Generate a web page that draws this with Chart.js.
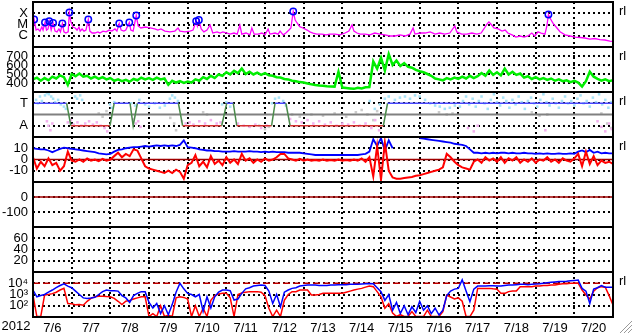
<!DOCTYPE html>
<html lang="en">
<head>
<meta charset="UTF-8">
<title>Solar-terrestrial summary 2012 7/6 - 7/20</title>
<script src="https://cdn.jsdelivr.net/npm/chart.js"></script>
<style>
    body { margin: 0; background: #fff; }
    #panels { position: relative; width: 633px; height: 334px; overflow: hidden; }
    #panels canvas { position: absolute; left: 0; }
</style>
</head>
<body>
<div id="panels"></div>
<script>
// ---------- data (time in days from 2012-07-06 00UT) ----------
const YEAR = '2012';
const DAY_LABELS = ['7/6', '7/7', '7/8', '7/9', '7/10', '7/11', '7/12', '7/13', '7/14', '7/15', '7/16', '7/17', '7/18', '7/19', '7/20'];
const STEP = 0.1; // spacing of the gridded series below

// X-ray flux (W/m2)
const xrayT = [
    0, 0.03, 0.08, 0.13, 0.18, 0.23, 0.26, 0.31, 0.35, 0.39,
    0.42, 0.47, 0.52, 0.57, 0.62, 0.67, 0.71, 0.76, 0.80, 0.85,
    0.91, 0.94, 0.98, 1.03, 1.09, 1.14, 1.19, 1.22, 1.27, 1.32,
    1.37, 1.43, 1.47, 1.53, 1.60, 1.68, 1.73, 1.81, 1.89, 1.97,
    2.04, 2.12, 2.17, 2.23, 2.28, 2.35, 2.40, 2.49, 2.53, 2.59,
    2.67, 2.72, 2.79, 2.90, 3.03, 3.15, 3.23, 3.31, 3.41, 3.54,
    3.67, 3.75, 3.80, 3.93, 4.06, 4.14, 4.22, 4.25, 4.29, 4.35,
    4.42, 4.50, 4.58, 4.65, 4.76, 4.84, 4.91, 5.02, 5.09, 5.20,
    5.28, 5.35, 5.40, 5.51, 5.61, 5.66, 5.72, 5.82, 5.92, 6.00,
    6.08, 6.13, 6.26, 6.34, 6.39, 6.47, 6.54, 6.62, 6.67, 6.73,
    6.78, 6.83, 6.90, 6.98, 7.09, 7.16, 7.24, 7.34, 7.47, 7.58,
    7.68, 7.81, 7.94, 8.07, 8.17, 8.25, 8.30, 8.38, 8.46, 8.59,
    8.71, 8.84, 8.97, 9.10, 9.23, 9.36, 9.49, 9.62, 9.75, 9.83,
    9.88, 10.01, 10.14, 10.27, 10.40, 10.52, 10.65, 10.78, 10.91, 10.96,
    11.09, 11.22, 11.35, 11.48, 11.59, 11.66, 11.74, 11.79, 11.84, 11.92,
    12.03, 12.13, 12.21, 12.28, 12.39, 12.49, 12.60, 12.70, 12.80, 12.90,
    12.98, 13.06, 13.14, 13.24, 13.29, 13.33, 13.37, 13.45, 13.55, 13.63,
    13.76, 13.89, 14.02, 14.15, 14.27, 14.40, 14.53, 14.66, 14.79, 14.92,
    15.00
];
const xrayFlux = [
    2.6e-6, 2.8e-5, 3.2e-6, 4.0e-6, 2.6e-6, 6.0e-6, 3.2e-6, 1.5e-5, 3.2e-6, 4.0e-6,
    2.0e-5, 3.2e-6, 1.36e-5, 2.6e-6, 2.2e-6, 4.0e-6, 2.2e-6, 1.23e-5, 2.2e-6, 1.75e-6,
    2.2e-6, 1.17e-4, 1.7e-5, 6.0e-6, 4.9e-6, 3.2e-6, 6.0e-6, 2.6e-6, 4.0e-6, 2.6e-6,
    3.2e-6, 2.8e-5, 2.6e-6, 1.75e-6, 1.75e-6, 2.2e-6, 1.75e-6, 2.6e-6, 2.2e-6, 3.2e-6,
    2.6e-6, 4.0e-6, 2.6e-6, 1.23e-5, 3.2e-6, 2.6e-6, 3.2e-6, 1.5e-5, 3.2e-6, 2.6e-6,
    6.3e-5, 7.4e-6, 4.9e-6, 6.0e-6, 4.9e-6, 4.0e-6, 3.2e-6, 4.0e-6, 2.6e-6, 2.2e-6,
    2.6e-6, 4.9e-6, 2.6e-6, 2.2e-6, 2.6e-6, 3.2e-6, 2.0e-5, 7.4e-6, 2.5e-5, 4.0e-6,
    2.2e-6, 3.2e-6, 9.0e-6, 1.75e-6, 2.2e-6, 1.75e-6, 2.2e-6, 1.75e-6, 1.4e-6, 1.75e-6,
    1.4e-6, 9.0e-6, 1.4e-6, 1.75e-6, 1.2e-6, 4.9e-6, 1.4e-6, 1.4e-6, 1.75e-6, 1.2e-6,
    4.0e-6, 1.4e-6, 1.75e-6, 1.4e-6, 2.6e-6, 1.2e-6, 1.75e-6, 3.2e-6, 4.9e-6, 1.43e-4,
    2.5e-5, 1.36e-5, 6.4e-6, 4.9e-6, 3.2e-6, 2.2e-6, 1.75e-6, 1.4e-6, 1.4e-6, 1.2e-6,
    1.4e-6, 1.4e-6, 1.2e-6, 1.75e-6, 2.6e-6, 9.0e-6, 2.6e-6, 1.75e-6, 1.4e-6, 1.4e-6,
    1.2e-6, 1.75e-6, 1.4e-6, 1.2e-6, 9.5e-7, 9.5e-7, 1.2e-6, 9.5e-7, 1.4e-6, 4.9e-6,
    1.4e-6, 1.75e-6, 1.75e-6, 2.2e-6, 1.4e-6, 1.75e-6, 1.4e-6, 1.75e-6, 7.4e-6, 2.2e-6,
    1.4e-6, 1.4e-6, 1.75e-6, 1.4e-6, 1.75e-6, 4.0e-6, 1.1e-5, 1.7e-5, 1.1e-5, 4.9e-6,
    4.0e-6, 2.6e-6, 3.2e-6, 1.75e-6, 1.2e-6, 7.7e-7, 9.5e-7, 7.7e-7, 9.5e-7, 1.75e-6,
    9.5e-7, 2.2e-6, 1.75e-6, 1.4e-6, 7.4e-6, 7.7e-5, 3.8e-5, 1.28e-5, 4.9e-6, 2.3e-6,
    1.2e-6, 9.5e-7, 7.7e-7, 7.0e-7, 6.3e-7, 5.1e-7, 5.7e-7, 4.6e-7, 4.2e-7, 3.4e-7,
    3.1e-7
];
// marked flares (circles)
const flareT = [0.03, 0.31, 0.42, 0.52, 0.76, 0.94, 1.43, 2.23, 2.49, 2.67, 4.22, 4.29, 6.73, 13.33];
const flareFlux = [2.8e-5, 1.5e-5, 2.0e-5, 1.36e-5, 1.23e-5, 1.17e-4, 2.8e-5, 1.23e-5, 1.5e-5, 6.3e-5, 2.0e-5, 2.5e-5, 1.43e-4, 7.7e-5];

// solar wind speed (km/s), every STEP days
const speed = [
    440, 460, 425, 455, 430, 470, 450, 485, 465, 380,
    500, 475, 505, 470, 480, 450, 470, 445, 465, 440,
    455, 425, 440, 420, 435, 415, 445, 430, 460, 440,
    455, 435, 460, 440, 450, 380, 425, 405, 420, 400,
    415, 405, 440, 425, 465, 445, 480, 455, 495, 480,
    520, 495, 535, 510, 560, 500, 525, 495, 515, 490,
    510, 485, 480, 465, 460, 445, 440, 425, 420, 410,
    405, 395, 385, 378, 372, 370, 365, 362, 360, 525,
    350, 345, 340, 335, 348, 340, 352, 355, 640, 560,
    680, 540, 720, 600, 650, 590, 620, 580, 570, 545,
    530, 520, 500, 480, 450, 440, 430, 455, 440, 460,
    445, 470, 450, 480, 455, 475, 510, 480, 540, 490,
    520, 485, 560, 495, 525, 490, 505, 460, 475, 445,
    465, 440, 455, 435, 450, 425, 440, 420, 430, 410,
    425, 405, 360, 420, 525, 470, 445, 425, 440, 420,
    430
];

// IMF sector: 3 = toward (T), 1 = away (A)
const sectorT = [0, 0.87, 0.98, 1.99, 2.10, 2.51, 2.59, 2.70, 3.76, 3.87, 4.88, 5.01, 5.18, 5.27, 6.17, 6.26, 6.54, 6.65, 9.06, 9.17, 15];
const sectorLevel = [3, 3, 1, 1, 3, 3, 1, 3, 3, 1, 1, 3, 3, 1, 1, 3, 3, 1, 1, 3, 3];
// field direction samples [day, level]
const towardPts = [
    [0.08, 3.3], [0.13, 3.0], [0.18, 3.6], [0.23, 3.2], [0.31, 3.7], [0.36, 3.9], [0.41, 3.8], [0.47, 3.6], [0.52, 3.4], [0.57, 3.1],
    [0.65, 3.3], [0.72, 2.9], [0.8, 2.7], [0.85, 2.5], [1.09, 3.6], [1.14, 3.4], [1.22, 3.7], [1.27, 3.3], [1.99, 2.9], [2.04, 2.6],
    [2.1, 3.1], [2.54, 3.0], [2.64, 2.8], [2.75, 3.3], [2.9, 2.9], [3.0, 2.7], [3.15, 3.0], [3.28, 2.6], [3.41, 2.8], [3.54, 3.4],
    [3.6, 3.7], [3.67, 3.5], [3.75, 3.2], [4.89, 2.9], [5.0, 3.1], [5.1, 2.7], [6.18, 3.0], [6.26, 3.4], [6.36, 3.5], [6.47, 3.2],
    [6.54, 2.8], [8.71, 3.2], [8.84, 2.5], [8.97, 2.9], [9.1, 3.4], [9.2, 3.6], [9.36, 3.3], [9.49, 3.5], [9.62, 3.6], [9.75, 3.4],
    [9.88, 3.7], [10.0, 3.6], [10.14, 3.3], [10.27, 3.0], [10.4, 2.8], [10.52, 2.7], [10.65, 2.5], [10.78, 2.6], [10.91, 2.8], [11.04, 2.7],
    [11.12, 3.2], [11.2, 3.6], [11.28, 2.9], [11.37, 3.4], [11.45, 2.7], [11.53, 3.2], [11.6, 3.6], [11.68, 3.0], [11.76, 2.5], [11.84, 3.3],
    [11.92, 3.8], [12.0, 3.1], [12.08, 2.8], [12.16, 3.5], [12.24, 3.2], [12.32, 2.6], [12.4, 3.3], [12.48, 2.9], [12.56, 3.6], [12.64, 3.1],
    [12.72, 2.5], [12.8, 3.2], [12.88, 3.5], [12.96, 3.0], [13.04, 2.7], [13.12, 3.3], [13.2, 3.8], [13.28, 3.1], [13.36, 2.8], [13.44, 3.4],
    [13.52, 3.0], [13.6, 2.6], [13.68, 3.2], [13.76, 3.6], [13.84, 3.0], [13.92, 3.2], [14.0, 2.8], [14.08, 3.4], [14.16, 3.7], [14.24, 3.0],
    [14.32, 3.2], [14.4, 2.7], [14.48, 3.5], [14.56, 3.1], [14.64, 3.8], [14.72, 2.9], [14.8, 3.3], [14.88, 2.6], [14.95, 3.1]
];
const awayPts = [
    [0.36, 1.4], [0.4, 1.0], [0.45, 0.6], [0.5, 1.2], [0.9, 1.3], [0.98, 1.5], [1.05, 1.1], [1.15, 1.3], [1.25, 1.0], [1.35, 1.2],
    [1.45, 1.4], [1.55, 1.1], [1.65, 1.3], [1.75, 1.0], [1.85, 0.8], [1.92, 0.5], [2.6, 1.6], [2.66, 1.2], [2.72, 1.4], [2.78, 0.9],
    [3.85, 1.4], [3.95, 1.2], [4.05, 1.3], [4.15, 1.1], [4.3, 1.4], [4.45, 1.2], [4.6, 1.5], [4.75, 1.2], [4.85, 1.3], [5.3, 1.2],
    [5.45, 1.0], [5.6, 0.9], [5.75, 1.1], [5.9, 0.8], [6.05, 1.0], [6.65, 1.6], [6.8, 1.4], [6.95, 1.3], [7.1, 1.5], [7.25, 1.2],
    [7.4, 1.4], [7.55, 1.1], [7.7, 1.3], [7.85, 1.0], [8.0, 1.2], [8.15, 1.1], [8.3, 1.3], [8.45, 1.0], [8.6, 1.2], [8.75, 0.8],
    [8.85, 1.5], [8.95, 0.6], [11.25, 0.8], [11.4, 0.5], [11.5, 1.0], [13.25, 0.6], [14.6, 1.4], [14.7, 0.9], [14.8, 0.5], [14.9, 1.2],
    [14.97, 0.7]
];
const otherPts = [
    [1.7, 2.1], [1.8, 1.8], [1.9, 2.3], [3.55, 1.7], [3.65, 1.2], [3.7, 0.6], [4.4, 2.2], [4.5, 2.0], [5.85, 1.0], [6.0, 0.7],
    [6.1, 0.9], [6.7, 2.0], [6.9, 1.8], [7.2, 2.0], [7.5, 1.9], [7.8, 2.1], [8.1, 1.8], [8.35, 2.2], [8.5, 2.4], [8.65, 2.0],
    [8.8, 1.5], [8.9, 2.3], [10.5, 2.2], [10.7, 2.0], [10.85, 2.1], [12.9, 2.2], [13.1, 1.9], [13.3, 2.0], [14.7, 2.1], [14.85, 1.2],
    [14.95, 0.8]
];

// IMF |B| and Bz (nT), every STEP days
const bt = [
    10, 9.5, 9, 9, 8, 6.5, 8, 9.5, 10.5, 10,
    9.5, 9, 8.5, 8, 7.5, 7, 6.5, 5.5, 5, 4.5,
    5, 7, 8.5, 9, 10, 10.5, 11, 11, 11.5, 12,
    11.5, 12, 12.5, 12, 12.5, 12, 12.5, 12, 13, 17,
    11, 10.5, 10, 9, 8.5, 8, 8, 7.5, 7.5, 7,
    7, 7, 7.5, 7, 7, 7, 7.5, 7, 7, 6.5,
    7, 6.5, 7, 6.5, 6.5, 6.5, 6, 6, 6, 6,
    5.5, 5, 4.5, 4, 4, 4, 4, 4, 4, 4,
    4, 4, 4, 4, 4, 4.5, 5, 7, 18, 12,
    19, 8, 17, 10, null, null, null, null, null, null,
    19, 18.5, 18, 17.5, 17, 16.5, 16, 15.5, 15, 14,
    13.5, 13, 12, 9, 6, 6, 5.5, 6, 5.5, 6,
    5.5, 6, 6, 5.5, 6, 5.5, 5.5, 6, 5.5, 5.5,
    5, 5.5, 5, 5.5, 5, 5, 5.5, 5, 5, 5.5,
    5, 7, 8, 6.5, 8.5, 6, 7, 5.5, 6, 5.5,
    5.5
];
const bz = [
    2, -8, -2, -6, 1, -5, -3, -10, -6, 7,
    -1, -2, 0, -2, 1, -1, 0, -1.5, 0.5, -1,
    0, 3, 6, 2, 5, 3, 9, 8, 1, -6,
    -8, -9, -10, -11, -12, -10, -12, -9, -11, -17,
    -5, -3, 4, -6, -2, -7, 3, -4, -1, -5,
    2, -3, 0, -4, 5, -1, 1, -3, 0, -2,
    1, -1, 0, 2, 5, 5, 1, 0, -1, 0.5,
    -1, 0, -1, -0.5, -1, 0, -1, -0.5, -1, 0,
    -1, -0.5, -1, 0, -1, 1, -2, 2, -15, 12,
    -18, 15, -10, -16, -17, -17, -16.5, -16, -15.5, -14.5,
    -14, -13, -12, -11, -10, -9, -7, 5, 2, -2,
    -5, -7, -8, -9, -2, 0, -3, 2, -1, 1,
    -2, 2, -3, 1, -1, 2, -3, 0, -2, 1,
    -3, 0, -1, 2, -2, 0, -3, 1, -1, -2,
    1, 5, -6, 7, -4, 3, -5, -1, -3, -2,
    -4
];

// particle fluxes, every STEP days
const fluxBlue = [
    2500, 630, 800, 1000, 1600, 2500, 4000, 6300, 9000, 5600,
    4000, 2000, 1000, 500, 450, 480, 560, 1000, 1800, 2500,
    2200, 2200, 2000, 800, 500, 200, 800, 1260, 1800, 1800,
    200, 63, 160, 20, 100, 16, 126, 1600, 10000, 3200,
    1260, 1000, 630, 1000, 32, 630, 63, 630, 1600, 2500,
    2500, 2200, 320, 400, 1260, 3200, 4000, 5600, 6300, 7000,
    6300, 2000, 160, 1000, 80, 1600, 2500, 3500, 4000, 5600,
    6300, 7000, 7000, 7000, 6300, 6300, 6300, 7000, 7000, 7500,
    7500, 7500, 8000, 8000, 8000, 8500, 9000, 9500, 9000, 4000,
    1800, 300, 1000, 40, 200, 20, 100, 16, 80, 25,
    250, 40, 100, 20, 60, 15, 40, 800, 2000, 3000,
    3500, 20000, 2000, 230, 3000, 5600, 5600, 5600, 6000, 6000,
    5600, 5600, 6300, 7000, 7000, 7500, 8000, 8000, 7500, 8000,
    8500, 9000, 10000, 11000, 12000, 13000, 14000, 14000, 15000, 17000,
    18000, 19000, 3500, 2000, 160, 3000, 4000, 6300, 4500, 4500,
    4500
];
const fluxRed = [
    900, 11, 11, 900, 1000, 1200, 1600, 2500, 3500, 160,
    150, 120, 130, 110, 250, 450, 630, 700, 700, 650,
    630, 450, 250, 130, 250, 300, 400, 500, 630, 630,
    11, 20, 11, 100, 11, 14, 11, 500, 630, 550,
    400, 11, 100, 11, 60, 11, 300, 800, 1100, 1260,
    1260, 500, 11, 1000, 1400, 1600, 1800, 1800, 1800, 1600,
    800, 60, 11, 40, 11, 300, 1000, 1800, 1800, 2500,
    2500, 2500, 900, 900, 1000, 1260, 1260, 1260, 1300, 1260,
    1300, 1600, 2000, 2500, 3000, 3500, 4500, 5600, 5000, 1800,
    630, 60, 150, 22, 11, 16, 11, 11, 30, 11,
    11, 11, 40, 11, 11, 11, 30, 900, 600, 400,
    500, 250, 11, 11, 40, 3500, 3500, 3500, 3500, 3200,
    3000, 1300, 1260, 1800, 2000, 2000, 5000, 5000, 5000, 5000,
    5600, 5600, 6300, 6300, 7000, 7000, 8000, 9000, 9000, 10000,
    10000, 10000, 2500, 900, 400, 2000, 4000, 5000, 4500, 800,
    120
];
const FLUX_ALERT = 10000;

// ---------- drawing ----------
const FONT = { family: "'Liberation Sans', Arial, sans-serif", size: 13 };
const DOT = [2, 3];
const NONE = 'rgba(0,0,0,0)';
const PANEL_TOP = 2, PANEL_H = 45;

function pairs(xs, ys) { return xs.map((x, i) => ({ x: x, y: ys[i] })); }
function gridded(ys) { return ys.map((y, i) => ({ x: Math.round(i * STEP * 10) / 10, y: y })); }
function points(list) { return list.map(p => ({ x: p[0], y: p[1] })); }

function line(data, color, extra) {
    return Object.assign({ data: data, borderColor: color, borderWidth: 1, pointRadius: 0, tension: 0, fill: false }, extra || {});
}
function dots(list, color) {
    return {
        data: points(list), showLine: false, pointStyle: 'rect', pointRadius: 1.8,
        pointBorderWidth: 0, backgroundColor: color, borderColor: color, pointBackgroundColor: color
    };
}

// labels may stick out of the panel; don't let them shrink the plot
function noPad(s) { s.paddingTop = 0; s.paddingBottom = 0; s.paddingLeft = 0; s.paddingRight = 0; }

function xScale(showLabels) {
    return {
        type: 'linear', min: 0, max: 15,
        afterBuildTicks: s => {
            s.ticks = [];
            for (let i = 0; i <= 30; i++) s.ticks.push({ value: i / 2 });
        },
        afterFit: s => { s.height = showLabels ? 17 : 0; noPad(s); },
        grid: {
            drawTicks: false, lineWidth: 2,
            color: c => (Number.isInteger(c.tick.value) && c.tick.value > 0 && c.tick.value < 15) ? '#000' : NONE
        },
        border: { display: false, dash: DOT },
        ticks: {
            display: showLabels, autoSkip: false, maxRotation: 0, padding: 4, color: '#000', font: FONT,
            callback: v => (v % 1 === 0.5 ? DAY_LABELS[Math.floor(v)] : '')
        }
    };
}

function yScale(type, min, max, ticks, label, hidden) {
    return {
        type: type, min: min, max: max, position: 'left',
        afterFit: s => { s.width = 33; noPad(s); },
        afterBuildTicks: s => { s.ticks = ticks.map(v => ({ value: v })); },
        grid: {
            drawTicks: false, lineWidth: 2,
            color: c => (hidden && hidden.indexOf(c.tick.value) >= 0) ? NONE : '#000'
        },
        border: { display: false, dash: DOT },
        ticks: { autoSkip: false, padding: 5, color: '#000', font: FONT, callback: label }
    };
}

const framePlugin = {
    id: 'frame',
    afterDraw(chart, args, opts) {
        const { ctx, chartArea: a } = chart;
        ctx.save();
        ctx.strokeStyle = '#000';
        ctx.lineWidth = 2;
        ctx.strokeRect(a.left, a.top, a.right - a.left, a.bottom - a.top);
        ctx.fillStyle = '#000';
        ctx.textBaseline = 'middle';
        ctx.font = '13px ' + FONT.family;
        if (opts.note) ctx.fillText(opts.note, a.right + 6, a.top + 9);
        if (opts.year) {
            ctx.textAlign = 'center';
            ctx.fillText(YEAR, 16, a.bottom + 9);
            // window resize grip
            ctx.lineWidth = 1;
            ctx.strokeStyle = '#999';
            for (const k of [0, 4, 8]) {
                ctx.beginPath();
                ctx.moveTo(620 + k, chart.height - 1);
                ctx.lineTo(632, chart.height - 13 + k);
                ctx.stroke();
            }
        }
        ctx.restore();
    }
};

let slot = 0;
function panel(cfg) {
    const last = !!cfg.last;
    const top = PANEL_TOP + slot * PANEL_H - 3;
    const height = last ? 334 - top : PANEL_H + 6;
    slot++;
    const cv = document.createElement('canvas');
    cv.width = 633;
    cv.height = height;
    cv.style.top = top + 'px';
    document.getElementById('panels').appendChild(cv);
    new Chart(cv, {
        type: 'line',
        data: { datasets: cfg.datasets },
        options: {
            responsive: false, animation: false, devicePixelRatio: 1, events: [],
            layout: { autoPadding: false, padding: { left: 0, right: 20, top: 3, bottom: last ? 0 : 3 } },
            plugins: {
                legend: { display: false }, tooltip: { enabled: false },
                frame: { note: cfg.note, year: last }
            },
            scales: { x: xScale(last), y: cfg.y }
        },
        plugins: [framePlugin]
    });
}

const XRAY_CLASS = { '-6': 'C', '-5': 'M', '-4': 'X' };
const SUP = { 2: '\u00b2', 3: '\u00b3', 4: '\u2074' };

// 1: X-ray
panel({
    note: 'rl',
    y: yScale('logarithmic', 1e-7, 1e-3, [1e-6, 1e-5, 1e-4], v => XRAY_CLASS[Math.round(Math.log10(v))] || ''),
    datasets: [
        { data: pairs(flareT, flareFlux), showLine: false, pointStyle: 'circle', pointRadius: 3.2,
          pointBorderWidth: 1.5, borderColor: '#0000ff', backgroundColor: NONE },
        line(pairs(xrayT, xrayFlux), '#ff00ff', { borderWidth: 1.3 })
    ]
});

// 2: solar wind speed
panel({
    note: 'rl',
    y: yScale('linear', 300, 800, [400, 500, 600, 700], v => String(v)),
    datasets: [line(gridded(speed), '#00ee00', { borderWidth: 2.5 })]
});

// 3: IMF sector
panel({
    note: 'rl',
    y: yScale('linear', 0, 4, [1, 2, 3], v => (v === 3 ? 'T' : v === 1 ? 'A' : ''), [2]),
    datasets: [
        line(pairs(sectorT, sectorLevel), '#4848ff', {
            borderWidth: 1.5,
            segment: {
                borderColor: c => c.p0.parsed.y !== c.p1.parsed.y ? '#4a8a4a' : (c.p0.parsed.y === 3 ? '#4848ff' : '#d83030')
            }
        }),
        line(pairs([0, 15], [2, 2]), '#808080', { borderWidth: 2 }),
        dots(towardPts, '#a8e2f6'),
        dots(awayPts, '#f2b0ee'),
        dots(otherPts, '#cccccc')
    ]
});

// 4: IMF Bt / Bz
panel({
    note: 'rl',
    y: yScale('linear', -20, 20, [-10, 0, 10], v => String(v)),
    datasets: [
        line(gridded(bz), '#ff0000', { borderWidth: 2 }),
        line(gridded(bt), '#0000ff', { borderWidth: 1.8 }),
        line(pairs([0, 15], [0, 0]), '#a00000', { borderWidth: 1.5 })
    ]
});

// 5: Dst
panel({
    y: yScale('linear', -200, 100, [-100, 0], v => String(v)),
    datasets: [line(pairs([0, 15], [0, 0]), '#a00000', { borderWidth: 1.5 })]
});

// 6: index panel (no data)
panel({
    y: yScale('linear', 0, 80, [20, 40, 60], v => String(v)),
    datasets: []
});

// 7: particle flux
panel({
    note: 'rl',
    last: true,
    y: yScale('logarithmic', 10, 1e5, [100, 1000, 10000], v => '10' + (SUP[Math.round(Math.log10(v))] || '')),
    datasets: [
        line(gridded(fluxBlue), '#0000ff', { borderWidth: 1.5 }),
        line(gridded(fluxRed), '#ff0000', { borderWidth: 1.5 }),
        line(pairs([0, 15], [FLUX_ALERT, FLUX_ALERT]), '#c00000', { borderWidth: 1.5, borderDash: [7, 3] })
    ]
});
</script>
</body>
</html>
